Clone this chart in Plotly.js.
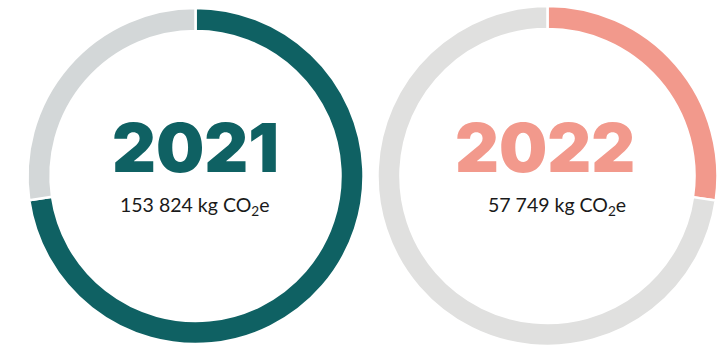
<!DOCTYPE html>
<html>
<head>
<meta charset="utf-8">
<script src="https://cdn.plot.ly/plotly-3.0.1.min.js"></script>
<style>
html,body{margin:0;padding:0;overflow:hidden;background:#fff;}
#chart{width:720px;height:352px;}
</style>
</head>
<body>
<div id="chart"></div>
<script>
const years = ["2021", "2022"];
const emissions = [153824, 57749];
const valueLabels = ["153 824 kg CO<sub>2</sub>e", "57 749 kg CO<sub>2</sub>e"];
const mainColors = ["#0f6163", "#f2998c"];
const restColors = ["#d3d7d8", "#e0e0df"];

const total = emissions[0] + emissions[1];

const traces = [
  {
    type: "pie",
    values: [emissions[0], total - emissions[0]],
    labels: [years[0], "rest"],
    marker: {colors: [mainColors[0], restColors[0]], line: {color: "#ffffff", width: 2.5}},
    hole: 0.863,
    sort: false,
    direction: "clockwise",
    rotation: 0,
    textinfo: "none",
    hoverinfo: "none",
    domain: {x: [0.0382, 0.5049], y: [0.0227, 0.9773]}
  },
  {
    type: "pie",
    values: [emissions[1], total - emissions[1]],
    labels: [years[1], "rest2"],
    marker: {colors: [mainColors[1], restColors[1]], line: {color: "#ffffff", width: 2.5}},
    hole: 0.865,
    sort: false,
    direction: "clockwise",
    rotation: 0,
    textinfo: "none",
    hoverinfo: "none",
    domain: {x: [0.5243, 0.9965], y: [0.017, 0.983]}
  }
];

const H = 352;
function py(px) { return 1 - px / H; }
const bigFont = "Inter, Lato, sans-serif";

const layout = {
  width: 720,
  height: H,
  margin: {l: 0, r: 0, t: 0, b: 0},
  paper_bgcolor: "#ffffff",
  showlegend: false,
  annotations: [
    {text: years[0], x: 195 / 720, y: py(147), xref: "paper", yref: "paper",
     xanchor: "center", yanchor: "middle", showarrow: false,
     font: {family: bigFont, size: 68, color: mainColors[0], weight: 900}},
    {text: valueLabels[0], x: 194 / 720, y: py(206), xref: "paper", yref: "paper",
     xanchor: "center", yanchor: "middle", showarrow: false,
     font: {family: "Lato", size: 19.5, color: "#1a1a1a"}},
    {text: years[1], x: 545 / 720, y: py(147), xref: "paper", yref: "paper",
     xanchor: "center", yanchor: "middle", showarrow: false,
     font: {family: bigFont, size: 68, color: mainColors[1], weight: 900}},
    {text: valueLabels[1], x: 557 / 720, y: py(206), xref: "paper", yref: "paper",
     xanchor: "center", yanchor: "middle", showarrow: false,
     font: {family: "Lato", size: 19.5, color: "#1a1a1a"}}
  ]
};

Plotly.newPlot("chart", traces, layout, {displayModeBar: false});
</script>
</body>
</html>
